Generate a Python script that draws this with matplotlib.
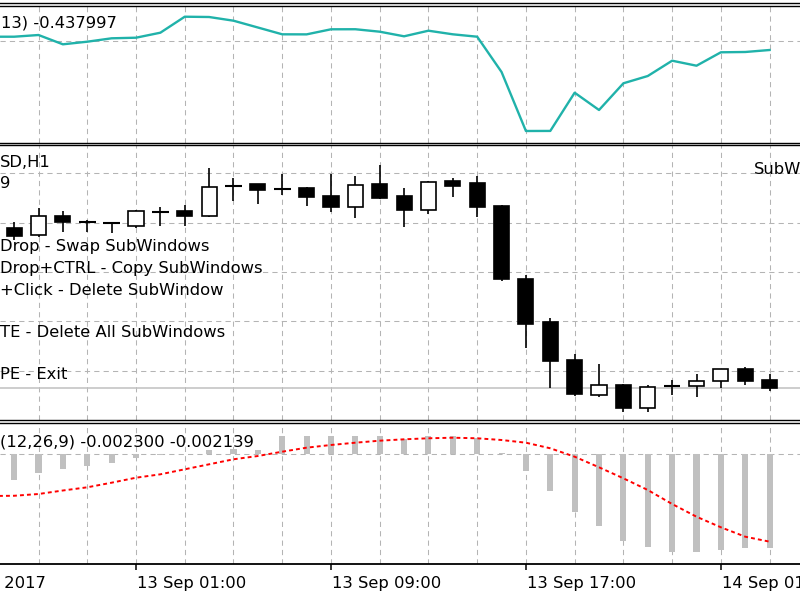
import numpy as np
import matplotlib
matplotlib.use("Agg")
import matplotlib.pyplot as plt
from matplotlib.patches import Rectangle
from matplotlib.lines import Line2D
from matplotlib.transforms import blended_transform_factory

# ---------------- data (H1 bars, index 0 = 13 Sep 2017 01:00) ----------------
bar_index = list(range(-6, 27))
nan = float("nan")

opens = [nan, 1.19489, 1.19474, 1.19513, 1.19501, 1.19499, 1.19493, 1.19521, 1.19524,
         1.19513, 1.19575, 1.19578, 1.19568, 1.19571, 1.19553, 1.19531, 1.19578, 1.19555,
         1.19526, 1.19584, 1.19580, 1.19534, 1.19385, 1.19299, 1.19222, 1.19150, 1.19172,
         1.19124, 1.19168, 1.19169, 1.19180, 1.19203, 1.19181]
highs = [nan, 1.19502, 1.19529, 1.19524, 1.19505, 1.19502, 1.19525, 1.19532, 1.19536,
         1.19610, 1.19590, 1.19579, 1.19598, 1.19572, 1.19598, 1.19595, 1.19617, 1.19570,
         1.19584, 1.19591, 1.19595, 1.19536, 1.19394, 1.19306, 1.19234, 1.19213, 1.19173,
         1.19172, 1.19181, 1.19193, 1.19204, 1.19207, 1.19193]
lows = [nan, 1.19465, 1.19470, 1.19481, 1.19482, 1.19479, 1.19489, 1.19493, 1.19493,
        1.19512, 1.19544, 1.19537, 1.19556, 1.19534, 1.19522, 1.19510, 1.19548, 1.19492,
        1.19517, 1.19551, 1.19512, 1.19382, 1.19247, 1.19164, 1.19149, 1.19146, 1.19117,
        1.19117, 1.19151, 1.19146, 1.19164, 1.19171, 1.19159]
closes = [nan, 1.19473, 1.19514, 1.19501, 1.19500, 1.19499, 1.19524, 1.19521, 1.19514,
          1.19573, 1.19575, 1.19566, 1.19568, 1.19551, 1.19531, 1.19576, 1.19549, 1.19526,
          1.19583, 1.19574, 1.19531, 1.19385, 1.19294, 1.19220, 1.19153, 1.19172, 1.19124,
          1.19166, 1.19168, 1.19180, 1.19203, 1.19180, 1.19164]

osc_values = [0.188, 0.188, 0.268, -0.170, -0.047, 0.113, 0.141, 0.377, 1.130, 1.116,
              0.942, 0.622, 0.301, 0.298, 0.537, 0.540, 0.424, 0.207, 0.471, 0.301,
              0.188, -1.474, -4.253, -4.250, -2.449, -3.264, -2.006, -1.663, -0.942,
              -1.178, -0.546, -0.532, -0.437997]

macd_main = [-0.000700, -0.000629, -0.000465, -0.000367, -0.000286, -0.000206, -0.000098,
             -0.000012, 0.000007, 0.000105, 0.000122, 0.000105, 0.000450, 0.000445,
             0.000440, 0.000448, 0.000441, 0.000367, 0.000448, 0.000448, 0.000392,
             0.000039, -0.000401, -0.000891, -0.001405, -0.001748, -0.002115, -0.002262,
             -0.002384, -0.002380, -0.002343, -0.002301, -0.002300]
macd_signal = [-0.001021, -0.001015, -0.000972, -0.000886, -0.000808, -0.000695, -0.000573,
               -0.000490, -0.000367, -0.000245, -0.000122, -0.000042, 0.000064, 0.000162,
               0.000228, 0.000284, 0.000333, 0.000367, 0.000392, 0.000406, 0.000392,
               0.000350, 0.000284, 0.000147, -0.000059, -0.000318, -0.000588, -0.000874,
               -0.001217, -0.001528, -0.001787, -0.002017, -0.002139]

tick_pos = [-8, 0, 8, 16, 24]
tick_labels = ["12 Sep 2017", "13 Sep 01:00", "13 Sep 09:00", "13 Sep 17:00", "14 Sep 01:00"]
price_grid = [1.1960, 1.1950, 1.1940, 1.1930, 1.1920]

# ---------------- layout ----------------
W, H = 800, 600
fig = plt.figure(figsize=(8, 6), dpi=100)
fig.patch.set_facecolor("white")

def fy(py):
    return 1 - py / H

bar0_px = 136.0
bar_px = 24.37
xlim = (-bar0_px / bar_px, (W - bar0_px) / bar_px)

panels = [(5.5, 142.5), (145.0, 419.5), (422.5, 564.0)]
axes = []
for top, bot in panels:
    ax = fig.add_axes([0, fy(bot), 1, (bot - top) / H])
    ax.set_xlim(*xlim)
    for s in ax.spines.values():
        s.set_visible(False)
    ax.set_yticks([])
    ax.set_xticks([])
    ax.set_facecolor("white")
    axes.append(ax)
ax1, ax2, ax3 = axes

# y ranges (value per pixel mapping for each panel)
ax1.set_ylim((40.7 - 142.5) * 0.0471, (40.7 - 5.5) * 0.0471)
ax2.set_ylim(1.1960 - (419.5 - 173.3) * 0.000020263, 1.1960 + (173.3 - 145.0) * 0.000020263)
ax3.set_ylim(-(564.0 - 454.3) * 2.448e-5, (454.3 - 422.5) * 2.448e-5)

grid_color = "#b4b4b4"
grid_ls = (0, (5, 4))
grid_lw = 0.75
vgrid = [i for i in range(-6, 28, 2)]
for ax in axes:
    for g in vgrid:
        ax.axvline(g, color=grid_color, lw=grid_lw, ls=grid_ls, zorder=0)
ax1.axhline(0, color=grid_color, lw=grid_lw, ls=grid_ls, zorder=0)
for p in price_grid:
    ax2.axhline(p, color=grid_color, lw=grid_lw, ls=grid_ls, zorder=0)
ax3.axhline(0, color=grid_color, lw=grid_lw, ls=grid_ls, zorder=0)

# ---------------- top oscillator ----------------
ax1.plot(bar_index, osc_values, color="#20b2aa", lw=1.7, zorder=3)

# ---------------- candles ----------------
bw = 0.62
for x, o, h, l, c in zip(bar_index, opens, highs, lows, closes):
    if np.isnan(o):
        continue
    ax2.vlines(x, l, h, color="black", lw=1.2, zorder=3)
    if abs(c - o) < 1.5e-5:
        ax2.hlines((o + c) / 2, x - bw / 2 - 0.03, x + bw / 2 + 0.03, color="black", lw=1.5, zorder=4)
    else:
        fc = "white" if c > o else "black"
        ax2.add_patch(Rectangle((x - bw / 2, min(o, c)), bw, abs(c - o),
                                facecolor=fc, edgecolor="black", lw=1.2, zorder=4))
ax2.axhline(closes[-1], color="#c0c0c0", lw=1.1, zorder=1)

# ---------------- MACD ----------------
ax3.bar(bar_index, macd_main, width=0.25, color="#c0c0c0", zorder=2)
ax3.plot(bar_index, macd_signal, color="red", lw=1.4, ls=(0, (2, 1.6)), zorder=3)

ax3.spines["bottom"].set_visible(True)
ax3.spines["bottom"].set_color("black")
ax3.spines["bottom"].set_linewidth(1.3)
ax3.set_xticks(tick_pos[1:])
ax3.tick_params(axis="x", direction="out", length=4.5, width=1.1, labelbottom=False)
ax3.set_xlim(*xlim)

fs = 11.8
tr = blended_transform_factory(ax3.transData, fig.transFigure)
for t, lab in zip(tick_pos, tick_labels):
    ax3.text(t + 0.05, fy(587.7), lab, transform=tr, ha="left", va="baseline",
             fontsize=fs, color="black", clip_on=False)

# ---------------- panel separators ----------------
for py in [3.0, 5.5, 142.5, 145.0, 419.5, 422.5]:
    fig.add_artist(Line2D([0, 1], [fy(py), fy(py)], transform=fig.transFigure,
                          color="black", lw=1.0))

# ---------------- texts ----------------
def ftext(px, py, s, **kw):
    fig.text(px / W, fy(py), s, ha="left", va="baseline", fontsize=fs, color="black", **kw)

ftext(1, 27.3, "13) -0.437997")
ftext(0, 166.5, "SD,H1")
ftext(0, 187.5, "9")
ftext(0, 251.0, "Drop - Swap SubWindows")
ftext(0, 272.7, "Drop+CTRL - Copy SubWindows")
ftext(0, 295.0, "+Click - Delete SubWindow")
ftext(0, 336.7, "TE - Delete All SubWindows")
ftext(0, 379.3, "PE - Exit")
ftext(754, 174.0, "SubW")
ftext(0, 446.7, "(12,26,9) -0.002300 -0.002139")

fig.savefig("out.png", dpi=100, facecolor="white")
